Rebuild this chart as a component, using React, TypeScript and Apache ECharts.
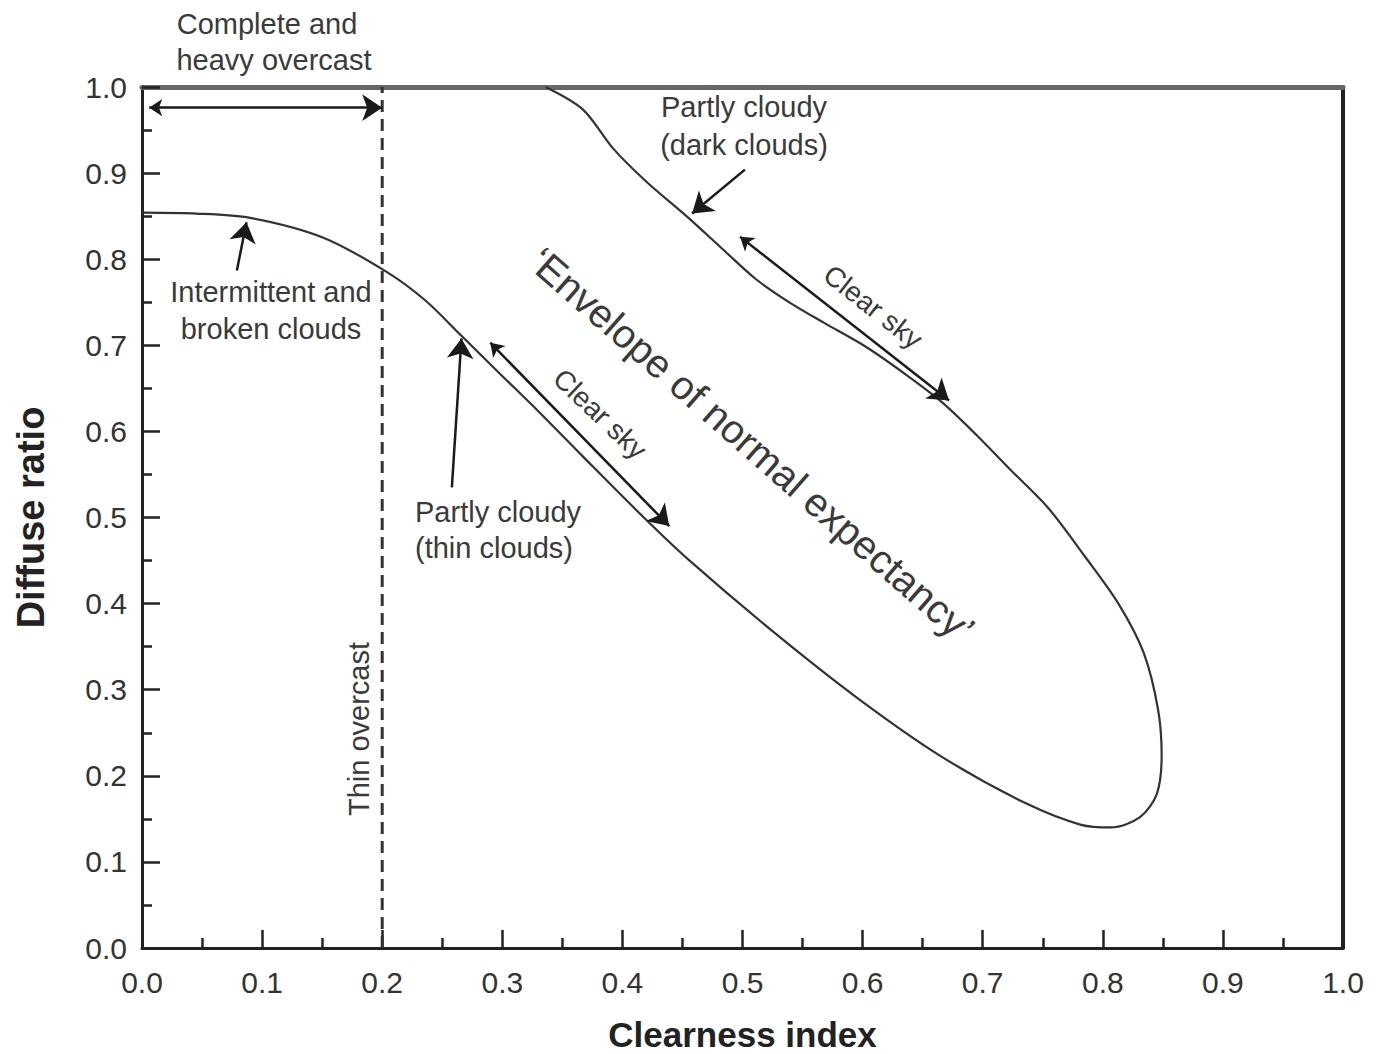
import React, { useEffect, useRef } from "react";
import * as echarts from "echarts";

// Envelope of normal expectancy (clearness index, diffuse ratio)
const upperBranch: [number, number][] = [
  [0.336, 1.0], [0.367, 0.974], [0.392, 0.929], [0.42, 0.89], [0.455, 0.848],
  [0.484, 0.811], [0.511, 0.777], [0.54, 0.749], [0.568, 0.726], [0.603, 0.698],
  [0.638, 0.664], [0.666, 0.634], [0.694, 0.597], [0.722, 0.557], [0.754, 0.512],
  [0.785, 0.455], [0.813, 0.4], [0.834, 0.343], [0.846, 0.277],
];
const tipBranch: [number, number][] = [
  [0.849, 0.224], [0.845, 0.179], [0.831, 0.152], [0.807, 0.14], [0.782, 0.143],
  [0.736, 0.168],
];
const lowerBranch: [number, number][] = [
  [0.666, 0.222], [0.596, 0.29], [0.525, 0.368], [0.455, 0.451], [0.42, 0.497],
  [0.367, 0.571], [0.331, 0.622], [0.298, 0.667], [0.266, 0.711], [0.236, 0.752],
  [0.204, 0.785], [0.151, 0.825], [0.09, 0.848], [0.045, 0.853], [0.0, 0.854],
];
const overcastLimit: [number, number][] = [[0.2, 0], [0.2, 1]];

// annotation arrows (tail -> tip)
const singleArrows: [number, number][][] = [
  [[0.079, 0.787], [0.087, 0.843]],
  [[0.258, 0.535], [0.266, 0.708]],
  [[0.502, 0.904], [0.458, 0.853]],
];
const doubleArrows: [number, number][][] = [
  [[0.006, 0.976], [0.2, 0.976]],
  [[0.29, 0.703], [0.439, 0.49]],
  [[0.498, 0.826], [0.672, 0.636]],
];

const FONT = "'Liberation Sans', Arial, Helvetica, sans-serif";
const TXT = "#3a3a3a";
const deg = (d: number) => (d * Math.PI) / 180;

function label(text: string, x: number, y: number, opts: any = {}) {
  return {
    type: "text",
    x,
    y,
    rotation: opts.rotation || 0,
    z: 10,
    style: {
      text,
      fontSize: opts.fontSize || 29,
      fontFamily: FONT,
      fill: TXT,
      align: opts.align || "center",
      verticalAlign: "middle",
    },
  };
}

export default function App() {
  const ref = useRef<HTMLDivElement>(null);
  useEffect(() => {
    if (!ref.current) return;
    const chart = echarts.init(ref.current, null, { renderer: "svg" });
    const envelope = [...upperBranch, ...tipBranch, ...lowerBranch];
    const axisLabel = {
      fontSize: 30,
      color: "#333",
      fontFamily: FONT,
      formatter: (v: number) => v.toFixed(1),
    };
    chart.setOption({
      animation: false,
      backgroundColor: "#fff",
      grid: {
        left: 142,
        right: 52,
        top: 87,
        bottom: 106,
        show: false,
        containLabel: false,
        outerBoundsMode: "none",
      },
      xAxis: [
        {
          type: "value",
          min: 0,
          max: 1,
          interval: 0.1,
          name: "Clearness index",
          nameLocation: "middle",
          nameGap: 70,
          nameTextStyle: {
            fontSize: 35,
            lineHeight: 32,
            fontWeight: "bold",
            color: "#222",
            fontFamily: FONT,
          },
          axisLine: { show: true, onZero: false, lineStyle: { color: "#222", width: 3 } },
          axisTick: { show: true, inside: true, length: 18, lineStyle: { color: "#222", width: 2.5 } },
          minorTick: { show: true, splitNumber: 2, length: 10, lineStyle: { color: "#222", width: 2.5 } },
          axisLabel: { ...axisLabel, margin: 19 },
          splitLine: { show: false },
        },
        {
          type: "value",
          position: "top",
          min: 0,
          max: 1,
          axisLine: { show: true, onZero: false, lineStyle: { color: "#666", width: 5 } },
          axisTick: { show: false },
          axisLabel: { show: false },
          splitLine: { show: false },
        },
      ],
      yAxis: [
        {
          type: "value",
          min: 0,
          max: 1,
          interval: 0.1,
          name: "Diffuse ratio",
          nameLocation: "middle",
          nameGap: 92,
          nameRotate: 90,
          nameTextStyle: { fontSize: 38, fontWeight: "bold", color: "#222", fontFamily: FONT },
          axisLine: { show: true, onZero: false, lineStyle: { color: "#222", width: 3 } },
          axisTick: { show: true, inside: true, length: 18, lineStyle: { color: "#222", width: 2.5 } },
          minorTick: { show: true, splitNumber: 2, length: 10, lineStyle: { color: "#222", width: 2.5 } },
          axisLabel: { ...axisLabel, margin: 15 },
          splitLine: { show: false },
        },
        {
          type: "value",
          position: "right",
          min: 0,
          max: 1,
          axisLine: { show: true, onZero: false, lineStyle: { color: "#222", width: 4 } },
          axisTick: { show: false },
          axisLabel: { show: false },
          splitLine: { show: false },
        },
      ],
      series: [
        {
          type: "line",
          name: "envelope",
          data: envelope,
          smooth: 0.3,
          showSymbol: false,
          lineStyle: { color: "#333", width: 2.2 },
          z: 3,
        },
        {
          type: "line",
          name: "thin overcast limit",
          data: overcastLimit,
          showSymbol: false,
          lineStyle: { color: "#333", width: 3, type: [12, 7] },
          z: 3,
        },
        {
          type: "lines",
          coordinateSystem: "cartesian2d",
          symbol: ["none", "arrow"],
          symbolSize: [13, 20],
          lineStyle: { color: "#1a1a1a", width: 2.5, opacity: 1, curveness: 0 },
          data: singleArrows.map((c) => ({ coords: c })),
          z: 4,
        },
        {
          type: "lines",
          coordinateSystem: "cartesian2d",
          symbol: ["arrow", "arrow"],
          symbolSize: [13, 20],
          lineStyle: { color: "#1a1a1a", width: 2.5, opacity: 1, curveness: 0 },
          data: doubleArrows.map((c) => ({ coords: c })),
          z: 4,
        },
      ],
      graphic: [
        label("Complete and", 267, 24),
        label("heavy overcast", 274, 60),
        label("Intermittent and", 271, 292),
        label("broken clouds", 271, 329),
        label("Thin overcast", 359, 729, { rotation: deg(90) }),
        label("Partly cloudy", 415, 512, { align: "left" }),
        label("(thin clouds)", 415, 548, { align: "left" }),
        label("Partly cloudy", 744, 107),
        label("(dark clouds)", 744, 145),
        label("Clear sky", 600, 414, { rotation: deg(-43.5), fontSize: 28 }),
        label("Clear sky", 873, 307, { rotation: deg(-38), fontSize: 28 }),
        label("\u2018Envelope of normal expectancy\u2019", 752, 445, { rotation: deg(-41.2), fontSize: 40 }),
      ],
    });
    return () => chart.dispose();
  }, []);
  return (
    <div
      ref={ref}
      style={{ position: "fixed", left: 0, top: 0, width: 1395, height: 1054, background: "#fff" }}
    />
  );
}
